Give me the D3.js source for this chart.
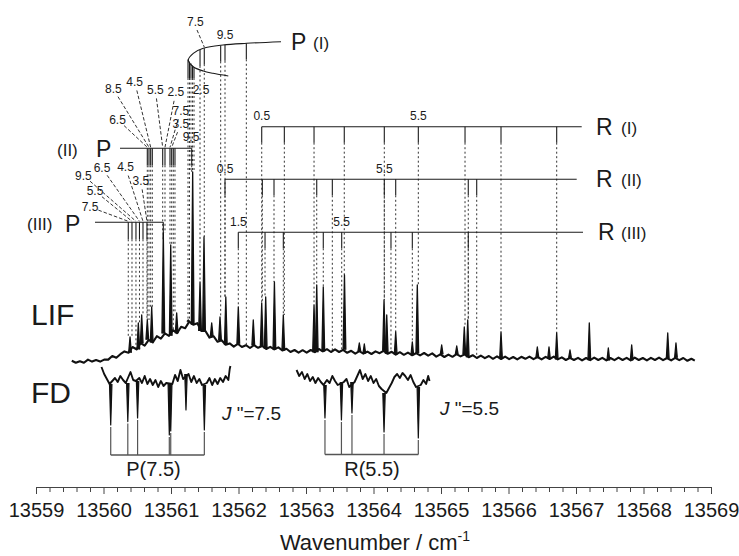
<!DOCTYPE html>
<html>
<head>
<meta charset="utf-8">
<script src="https://cdn.jsdelivr.net/npm/d3@7"></script>
<style>
  body { margin: 0; background: #fff; }
  svg { display: block; font-family: "Liberation Sans", Arial, sans-serif; }
</style>
</head>
<body>
<svg id="chart" width="739" height="556"></svg>
<script>
// ---- data (wavenumber in cm-1, intensity in arb. units) ----
const tickLabels = [13559, 13560, 13561, 13562, 13563, 13564, 13565, 13566, 13567, 13568, 13569];

// LIF baseline samples (noise included as read)
const lifBase = [
  [13559.53,2.1],[13559.59,1.1],[13559.65,1.9],[13559.71,1.1],[13559.77,2.7],[13559.83,1.7],[13559.89,2.5],[13559.95,1.7],
  [13560.01,2.7],[13560.07,2.7],[13560.13,4.5],[13560.19,3.6],[13560.25,5.4],[13560.31,6.8],[13560.37,6.1],[13560.43,9.0],
  [13560.49,7.8],[13560.55,10.9],[13560.61,9.7],[13560.67,12.6],[13560.73,11.3],[13560.79,14.4],[13560.85,13.2],[13560.91,15.8],
  [13560.97,14.6],[13561.03,17.4],[13561.09,15.9],[13561.15,19.1],[13561.21,18.4],[13561.27,21.7],[13561.33,20.1],[13561.39,20.9],
  [13561.45,17.0],[13561.51,17.0],[13561.57,13.7],[13561.63,14.4],[13561.69,11.6],[13561.75,12.4],[13561.81,10.1],[13561.87,10.8],
  [13561.93,9.2],[13561.99,10.6],[13562.05,9.0],[13562.11,9.9],[13562.17,8.5],[13562.23,9.9],[13562.29,8.6],[13562.35,9.5],
  [13562.41,8.0],[13562.47,9.1],[13562.53,7.8],[13562.59,8.8],[13562.65,7.3],[13562.71,8.1],[13562.77,6.5],[13562.83,7.5],
  [13562.89,6.2],[13562.95,7.4],[13563.01,6.2],[13563.07,7.5],[13563.13,6.4],[13563.19,8.0],[13563.25,6.8],[13563.31,7.9],
  [13563.37,6.5],[13563.43,7.8],[13563.49,6.5],[13563.55,7.6],[13563.61,6.1],[13563.67,7.1],[13563.73,5.7],[13563.79,6.9],
  [13563.85,5.7],[13563.91,6.7],[13563.97,5.5],[13564.03,6.8],[13564.09,5.9],[13564.15,7.1],[13564.21,5.6],[13564.27,6.6],
  [13564.33,5.2],[13564.39,6.4],[13564.45,5.1],[13564.51,6.2],[13564.57,4.9],[13564.63,5.9],[13564.69,4.8],[13564.75,6.0],
  [13564.81,4.7],[13564.87,5.8],[13564.93,4.2],[13564.99,5.3],[13565.05,4.0],[13565.11,5.2],[13565.17,4.1],[13565.23,5.4],
  [13565.29,4.3],[13565.35,5.3],[13565.41,3.9],[13565.47,4.9],[13565.53,3.5],[13565.59,4.7],[13565.65,3.4],[13565.71,4.5],
  [13565.77,3.1],[13565.83,4.3],[13565.89,3.0],[13565.95,4.2],[13566.01,2.9],[13566.07,4.0],[13566.13,2.8],[13566.19,4.1],
  [13566.25,3.1],[13566.31,4.2],[13566.37,2.9],[13566.43,4.0],[13566.49,2.8],[13566.55,4.1],[13566.61,3.0],[13566.67,4.2],
  [13566.73,2.8],[13566.79,3.8],[13566.85,2.5],[13566.91,3.6],[13566.97,2.5],[13567.03,3.6],[13567.09,2.3],[13567.15,3.5],
  [13567.21,2.4],[13567.27,3.7],[13567.33,2.5],[13567.39,3.6],[13567.45,2.3],[13567.51,3.5],[13567.57,2.4],[13567.63,3.7],
  [13567.69,2.5],[13567.75,3.6],[13567.81,2.3],[13567.87,3.7],[13567.93,2.5],[13567.99,3.5],[13568.05,2.3],[13568.11,3.6],
  [13568.17,2.5],[13568.23,3.7],[13568.29,2.4],[13568.35,3.5],[13568.41,2.3],[13568.47,3.6],[13568.53,2.4],[13568.59,3.5],
  [13568.65,2.1],[13568.71,3.1],[13568.76,2.2]
];

// LIF peak tops
const lifPeaks = [
  [13560.393,14],[13560.516,21],[13560.566,25],[13560.649,22.5],[13560.714,29],[13560.886,66],[13560.996,60],
  [13561.084,26],[13561.256,22.5],[13561.321,96.5],[13561.430,41.5],[13561.489,64],[13561.603,21],[13561.726,24],
  [13561.812,34],[13561.997,29],[13562.219,22.5],[13562.344,31],[13562.403,34],[13562.532,41.5],[13562.664,25],
  [13563.119,30],[13563.159,40],[13563.256,39],[13563.570,45],[13563.790,11],[13563.864,10.5],[13564.156,32.5],
  [13564.196,25],[13564.329,16.5],[13564.575,11.5],[13564.649,40],[13565.010,10],[13565.233,9.5],[13565.345,19],
  [13565.396,22.5],[13565.889,16.5],[13566.427,9],[13566.600,9],[13566.714,16],[13566.911,7.5],[13567.197,21],
  [13567.479,8.5],[13567.825,10],[13568.359,16],[13568.481,11]
];

// FD traces (depletion is negative)
const fdLeft = [
  [13559.97,5.0],[13560.01,1.5],[13560.05,-1.0],[13560.09,-3.5],[13560.13,-2.0],[13560.17,-0.5],[13560.21,-2.5],
  [13560.25,0.5],[13560.29,-1.5],[13560.33,-3.0],[13560.40,2.5],[13560.44,-1.5],[13560.48,-2.0],[13560.53,-0.5],
  [13560.57,-3.0],[13560.61,0.5],[13560.65,-3.5],[13560.69,-1.0],[13560.73,-4.0],[13560.77,-1.5],[13560.81,-5.0],
  [13560.85,-2.0],[13560.89,-4.5],[13560.93,-3.0],[13561.02,-3.5],[13561.06,1.0],[13561.10,-2.0],[13561.14,3.5],
  [13561.18,-1.0],[13561.26,1.5],[13561.30,-2.5],[13561.34,0.5],[13561.38,-3.0],[13561.42,-1.0],[13561.46,-4.0],
  [13561.53,-3.0],[13561.57,-0.5],[13561.61,-4.0],[13561.65,-1.0],[13561.69,-3.5],[13561.73,-0.5],[13561.77,-2.5],
  [13561.81,0.5],[13561.85,-1.5],[13561.87,4.0],[13561.88,5.5]
];
const fdLeftDips = [[13560.107,-24],[13560.36,-22.3],[13560.505,-20.5],[13560.975,-29],[13560.996,-27],[13561.222,-16.5],[13561.494,-26.5]];
const pBracketDips = [13560.107, 13560.36, 13560.505, 13560.975, 13560.996, 13561.494];

const fdRight = [
  [13562.86,3.5],[13562.90,0.5],[13562.94,2.5],[13562.98,-1.0],[13563.02,1.5],[13563.06,-2.0],[13563.10,0.0],
  [13563.14,-3.0],[13563.18,-0.5],[13563.22,-2.5],[13563.26,-4.0],[13563.31,-1.5],[13563.35,-3.0],[13563.39,0.5],
  [13563.43,-2.0],[13563.47,-4.0],[13563.56,-2.5],[13563.60,-1.0],[13563.64,-5.0],[13563.72,-2.5],[13563.76,0.5],
  [13563.80,3.5],[13563.84,-1.0],[13563.88,1.5],[13563.92,-2.0],[13563.96,0.5],[13564.00,-3.0],[13564.04,-1.0],
  [13564.08,-4.5],[13564.12,-6.0],[13564.19,-8.0],[13564.23,-5.5],[13564.27,-3.0],[13564.31,0.0],[13564.35,1.5],
  [13564.39,-0.5],[13564.43,2.0],[13564.47,0.5],[13564.51,-1.5],[13564.55,1.0],[13564.59,-2.5],[13564.63,-5.0],
  [13564.70,-4.0],[13564.74,-1.5],[13564.78,-3.5],[13564.81,0.5],[13564.83,-2.0]
];
const fdRightDips = [[13563.281,-20.5],[13563.525,-21.5],[13563.681,-18],[13564.156,-27.5],[13564.664,-30.5]];
const rBracketDips = [13563.281, 13563.525, 13563.681, 13564.156, 13564.664];

// assignment ladders (line positions, cm-1)
const pIWave = [13561.430, 13561.493, 13561.736, 13561.800, 13562.116];
const pIHeadWave = [13561.252, 13561.274, 13561.296, 13561.319, 13561.341];
const pIIWave = [13560.649, 13560.674, 13560.699, 13560.723, 13560.877, 13560.911, 13560.985, 13561.010, 13561.034, 13561.059, 13561.307];
const pIIIWave = [13560.367, 13560.422, 13560.481, 13560.533, 13560.585, 13560.644, 13560.886];
const rIWave = [13562.344, 13562.679, 13563.119, 13563.567, 13564.160, 13564.664, 13565.356, 13565.889, 13566.714];
const rIIWave = [13561.800, 13562.353, 13562.526, 13563.159, 13563.390, 13564.160, 13564.329, 13565.404, 13565.529];
const rIIIWave = [13561.997, 13562.393, 13562.664, 13563.256, 13563.529, 13564.259, 13564.575, 13565.404];

// J labels: [text, index of line]
const pIILabels = [["6.5",0],["8.5",1],["4.5",2],["5.5",4],["2.5",5],["7.5",6],["3.5",7],["9.5",10]];
const pIIILabels = [["7.5",0],["5.5",1],["9.5",2],["6.5",3],["4.5",4],["3.5",5]];
const rILabels = [["0.5",0],["5.5",5]];
const rIILabels = [["0.5",0],["5.5",5]];
const rIIILabels = [["1.5",0],["5.5",4]];

// ---- layout ----
const svg = d3.select("#chart");
const ink = "#1a1a1a";

const x = d3.scaleLinear().domain([13559, 13569]).range([36, 711]);
const lifY = d3.scaleLinear().domain([0, 100]).range([365, 165]);
const fdY = d3.scaleLinear().domain([-30, 5]).range([437, 367]);

const byW = (a, b) => a[0] - b[0];
const lifData = lifBase.concat(lifPeaks).sort(byW);

// top of the LIF trace near a line position
function lifTop(w) {
  const pts = lifData.filter(d => Math.abs(d[0] - w) <= 0.03);
  return lifY(d3.max(pts, d => d[1]));
}
// nearest sample of a trace
function nearest(trace, w) {
  const i = d3.bisector(d => d[0]).center(trace, w);
  return trace[i][1];
}

const gDots = svg.append("g");
const gLad = svg.append("g");

function dotted(w, y0) {
  gDots.append("line")
    .attr("x1", x(w)).attr("x2", x(w))
    .attr("y1", y0).attr("y2", lifTop(w))
    .attr("stroke", "#333").attr("stroke-width", 1)
    .attr("stroke-dasharray", "2,2.5");
}

function ladder(waves, lineY, startW, endX, tickLen) {
  gLad.append("line")
    .attr("x1", x(startW)).attr("x2", endX)
    .attr("y1", lineY).attr("y2", lineY)
    .attr("stroke", ink).attr("stroke-width", 1.1);
  waves.forEach(w => {
    gLad.append("line")
      .attr("x1", x(w)).attr("x2", x(w))
      .attr("y1", lineY).attr("y2", lineY + tickLen)
      .attr("stroke", ink).attr("stroke-width", 1.1);
    dotted(w, lineY + tickLen);
  });
}

function numLabel(txt, cx, cy) {
  gLad.append("text").attr("x", cx).attr("y", cy + 4.3)
    .attr("text-anchor", "middle").attr("font-size", 12).attr("fill", ink).text(txt);
}

function ladderLabels(labels, waves, lineY) {
  labels.forEach(([t, i]) => numLabel(t, x(waves[i]), lineY - 11));
}

// fan of labels with dashed leaders
function fanLabels(labels, waves, lineY, pos) {
  labels.forEach(([t, i], k) => {
    const [cx, cy] = pos[k];
    numLabel(t, cx, cy);
    const ex = x(waves[i]), ey = lineY - 1;
    const dx = ex - cx, dy = ey - cy, len = Math.hypot(dx, dy);
    const s = Math.min(9, len);
    gLad.append("line")
      .attr("x1", cx + dx / len * s).attr("y1", cy + dy / len * s)
      .attr("x2", ex).attr("y2", ey)
      .attr("stroke", "#333").attr("stroke-width", 1)
      .attr("stroke-dasharray", "3.5,2");
  });
}

// R ladders
ladder(rIWave, 126.7, rIWave[0], 581.7, 16);
ladderLabels(rILabels, rIWave, 126.7);
ladder(rIIWave, 179.3, rIIWave[0], 576.7, 16);
ladderLabels(rIILabels, rIIWave, 179.3);
ladder(rIIIWave, 232.3, rIIIWave[0], 583, 16);
ladderLabels(rIIILabels, rIIIWave, 232.3);

// P(II), P(III)
ladder(pIIWave, 148.3, 13560.244, x(pIIWave[pIIWave.length - 1]), 17);
fanLabels(pIILabels, pIIWave, 148.3,
  [[117.5,119.5],[113.3,89],[134.7,81.7],[155.3,89.5],[175.8,92],[180.8,110.5],[180.8,123.8],[191,137]]);
ladder(pIIIWave, 222.3, 13559.874, x(pIIIWave[pIIIWave.length - 1]), 17);
fanLabels(pIIILabels, pIIIWave, 222.3,
  [[90,207],[95,191],[83.3,175.3],[102,168],[125.5,167],[140.8,180.5]]);

// P(I) band-head curve
const pIUpper = [[281,41.7],[246.7,43.3],[223,45],[203.3,48.3],[193.3,53.3],[188.3,60]];
const pILower = [[188.3,60],[193.3,66.7],[203.3,71],[213,73.3],[228.3,76]];
gLad.append("path")
  .attr("d", d3.line().curve(d3.curveCatmullRom)(pIUpper.concat(pILower.slice(1))))
  .attr("fill", "none").attr("stroke", ink).attr("stroke-width", 1.1);
const upY = d3.scaleLinear().domain(pIUpper.map(d => d[0]).reverse()).range(pIUpper.map(d => d[1]).reverse());
const loY = d3.scaleLinear().domain(pILower.map(d => d[0])).range(pILower.map(d => d[1]));
pIWave.forEach(w => {
  const y0 = upY(x(w));
  gLad.append("line").attr("x1", x(w)).attr("x2", x(w)).attr("y1", y0).attr("y2", y0 + 16)
    .attr("stroke", ink).attr("stroke-width", 1.1);
  dotted(w, y0 + 16);
});
pIHeadWave.forEach(w => {
  const y0 = loY(x(w));
  gLad.append("line").attr("x1", x(w)).attr("x2", x(w)).attr("y1", y0).attr("y2", 78)
    .attr("stroke", ink).attr("stroke-width", 1.1);
  dotted(w, 78);
});
numLabel("7.5", 195.3, 21.5);
gLad.append("line").attr("x1", 197).attr("y1", 30).attr("x2", x(pIWave[1])).attr("y2", 47)
  .attr("stroke", "#333").attr("stroke-dasharray", "3.5,2");
numLabel("9.5", 225, 35);
numLabel("2.5", 201, 89.5);

// LIF trace: baseline path plus narrow peaks
const traceLine = (yS) => d3.line().x(d => x(d[0])).y(d => yS(d[1]));
svg.append("path").datum(lifBase)
  .attr("d", traceLine(lifY))
  .attr("fill", "none").attr("stroke", "#111").attr("stroke-width", 2.1).attr("stroke-linejoin", "round");
const hw = 0.02;
svg.append("g").selectAll("path").data(lifPeaks).join("path")
  .attr("d", d => {
    const b = nearest(lifBase, d[0]);
    return traceLine(lifY)([[d[0] - hw, b], [d[0], d[1]], [d[0] + hw, b]]);
  })
  .attr("fill", "#111").attr("stroke", "#111").attr("stroke-width", 1.3).attr("stroke-linejoin", "round");

// FD traces: noisy baseline plus narrow dips
[[fdLeft, fdLeftDips], [fdRight, fdRightDips]].forEach(([base, dips]) => {
  svg.append("path").datum(base)
    .attr("d", traceLine(fdY))
    .attr("fill", "none").attr("stroke", "#111").attr("stroke-width", 1.9).attr("stroke-linejoin", "round");
  svg.append("g").selectAll("path").data(dips).join("path")
    .attr("d", d => {
      const b = nearest(base, d[0]);
      return traceLine(fdY)([[d[0] - 0.018, b], [d[0], d[1]], [d[0] + 0.018, b]]);
    })
    .attr("fill", "#111").attr("stroke", "#111").attr("stroke-width", 1.2).attr("stroke-linejoin", "round");
});

// brackets below FD
function bracket(waves, dips, bottom) {
  waves.forEach(w => {
    const p = dips.find(d => Math.abs(d[0] - w) < 1e-6);
    svg.append("line").attr("x1", x(w)).attr("x2", x(w))
      .attr("y1", p ? fdY(p[1]) + 2 : 433).attr("y2", bottom)
      .attr("stroke", "#555").attr("stroke-width", 1.2);
  });
  svg.append("line").attr("x1", x(waves[0])).attr("x2", x(waves[waves.length - 1]))
    .attr("y1", bottom).attr("y2", bottom).attr("stroke", "#555").attr("stroke-width", 1.3);
}
bracket(pBracketDips, fdLeftDips, 455);
bracket(rBracketDips, fdRightDips, 454.5);

// text
function label(txt, xx, yy, size, anchor) {
  return svg.append("text").attr("x", xx).attr("y", yy).attr("font-size", size)
    .attr("text-anchor", anchor || "start").attr("fill", ink).text(txt);
}
label("P", 291, 50, 23); label("(I)", 313, 48.5, 17);
label("R", 596, 135, 23); label("(I)", 621, 133.5, 17);
label("R", 596, 187, 23); label("(II)", 621, 185.5, 17);
label("R", 598, 240, 23); label("(III)", 621, 238.5, 17);
label("(II)", 57, 155.5, 17); label("P", 96, 157, 23);
label("(III)", 27, 229.5, 17); label("P", 65, 232, 23);
label("LIF", 31, 325, 30);
label("FD", 31, 403, 30);
label("P(7.5)", 153.5, 476, 20, "middle");
label("R(5.5)", 372, 476, 20, "middle");

const j1 = svg.append("text").attr("x", 222).attr("y", 420).attr("font-size", 19).attr("fill", ink);
j1.append("tspan").attr("font-style", "italic").text("J");
j1.append("tspan").text(' "=7.5');
const j2 = svg.append("text").attr("x", 440).attr("y", 415).attr("font-size", 19).attr("fill", ink);
j2.append("tspan").attr("font-style", "italic").text("J");
j2.append("tspan").text(' "=5.5');

// x axis
const axisY = 487;
const minorTicks = x.ticks(50).filter(d => Math.abs(d - Math.round(d)) > 1e-6);
const gMinor = svg.append("g").attr("transform", `translate(0,${axisY})`)
  .call(d3.axisBottom(x).tickValues(minorTicks).tickSize(5).tickSizeOuter(0).tickFormat(""));
gMinor.select(".domain").remove();
const gAxis = svg.append("g").attr("transform", `translate(0,${axisY})`)
  .call(d3.axisBottom(x).tickValues(tickLabels).tickSize(7).tickSizeOuter(0).tickPadding(9).tickFormat(d3.format("d")));
svg.selectAll(".domain, .tick line").attr("stroke", "#444").attr("stroke-width", 1);
gAxis.selectAll("text").attr("font-size", 20).attr("fill", ink).attr("font-family", "Liberation Sans, Arial, sans-serif");

const xl = svg.append("text").attr("x", 375).attr("y", 550).attr("text-anchor", "middle")
  .attr("font-size", 22).attr("fill", ink);
xl.append("tspan").text("Wavenumber / cm");
xl.append("tspan").attr("font-size", 14).attr("dy", -9).text("-1");
</script>
</body>
</html>
